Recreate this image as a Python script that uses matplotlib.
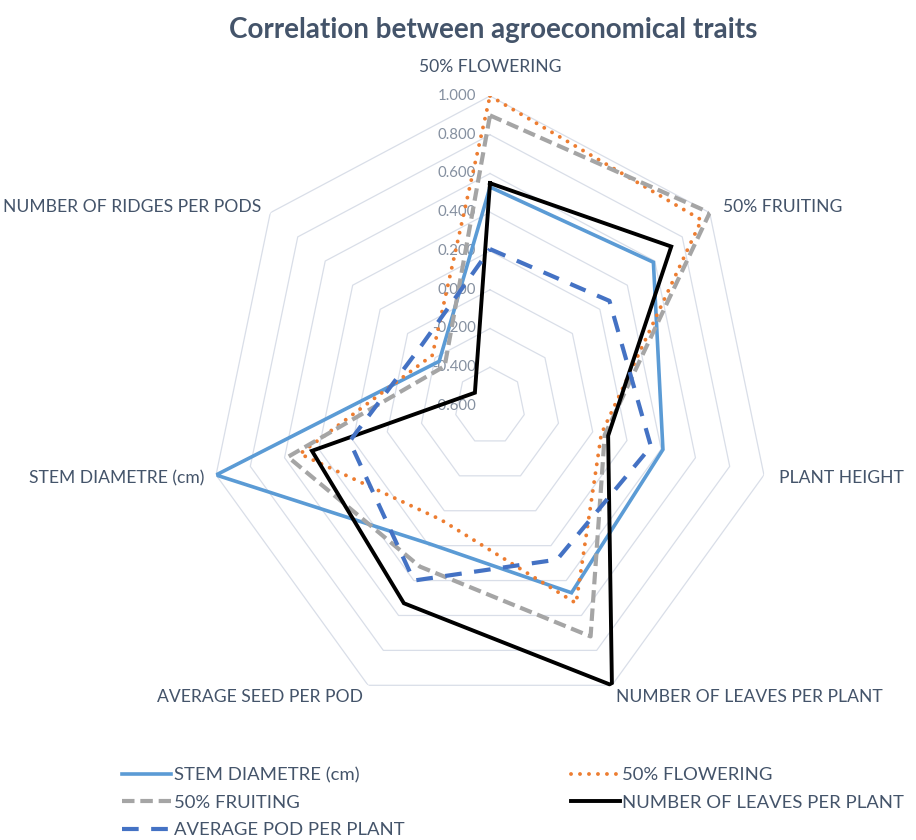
import matplotlib
matplotlib.use('Agg')
import matplotlib.pyplot as plt
import numpy as np

plt.rcParams['font.family'] = ['Lato', 'DejaVu Sans']

# Data
categories = ['50% FLOWERING', '50% FRUITING', 'PLANT HEIGHT', 'NUMBER OF LEAVES PER PLANT',
              'AVERAGE SEED PER POD', 'STEM DIAMETRE (cm)', 'NUMBER OF RIDGES PER PODS']

stem_diametre = [0.53, 0.59, 0.41, 0.47, 0.19, 1.00, -0.23]
flowering = [1.00, 0.94, 0.05, 0.53, 0.05, 0.51, -0.18]
fruiting = [0.90, 1.00, 0.07, 0.72, 0.32, 0.58, -0.27]
leaves = [0.55, 0.72, 0.09, 1.00, 0.53, 0.44, -0.49]
avg_pod = [0.21, 0.27, 0.34, 0.28, 0.40, 0.22, -0.10]

r_min, r_max = -0.6, 1.0
levels = np.round(np.arange(-0.6, 1.001, 0.2), 3)

text_col = '#44546a'
tick_col = '#8590a0'
grid_col = '#d9dee8'

n = len(categories)
angles = np.linspace(0, 2 * np.pi, n, endpoint=False)
closed = np.append(angles, angles[0])

fig = plt.figure(figsize=(9.16, 8.4), dpi=100)
# center at (490, 406) px, vertical radius 310 px, horizontal radius ~281 px
W, H = 916, 840
cx, cy, ry, rx = 490, 406, 310, 281
ax = fig.add_axes([(cx - rx) / W, (H - cy - ry) / H, 2 * rx / W, 2 * ry / H], projection='polar')
ax.set_aspect('auto')
ax.set_theta_zero_location('N')
ax.set_theta_direction(-1)
ax.set_ylim(r_min, r_max)
ax.set_xticks([])
ax.set_yticks([])
ax.grid(False)
ax.spines['polar'].set_visible(False)
ax.patch.set_alpha(0)

# heptagon rings
for lv in levels[1:]:
    ax.plot(closed, [lv] * (n + 1), color=grid_col, lw=0.9, zorder=1)

# radial value labels
for lv in levels:
    ax.annotate('{:.3f}'.format(lv), xy=(0, lv), xytext=(-14, 0), textcoords='offset pixels',
                ha='right', va='center', fontsize=10.8, color=tick_col, zorder=1.5)

series = [
    ('STEM DIAMETRE (cm)', stem_diametre, dict(color='#5B9BD5', lw=2.6, ls='-')),
    ('50% FLOWERING', flowering, dict(color='#ED7D31', lw=2.8, ls=(0, (0.01, 2.3)), dash_capstyle='round')),
    ('50% FRUITING', fruiting, dict(color='#A5A5A5', lw=3.0, ls=(0, (3.0, 1.4)))),
    ('NUMBER OF LEAVES PER PLANT', leaves, dict(color='black', lw=2.8, ls='-')),
    ('AVERAGE POD PER PLANT', avg_pod, dict(color='#4472C4', lw=3.0, ls=(0, (4.0, 3.0)))),
]

handles = {}
for name, vals, style in series:
    h, = ax.plot(closed, vals + vals[:1], label=name, zorder=3, solid_joinstyle='miter', **style)
    handles[name] = h

# category labels (offsets in pixels from outer ring vertex)
label_pos = [
    ((0, 29), 'center'),
    ((13, 6), 'left'),
    ((15, -3), 'left'),
    ((4, -12), 'left'),
    ((-5, -12), 'right'),
    ((-12, -3), 'right'),
    ((-9, 6), 'right'),
]
for ang, cat, (off, ha) in zip(angles, categories, label_pos):
    ax.annotate(cat, xy=(ang, r_max), xytext=off, textcoords='offset pixels',
                ha=ha, va='center', fontsize=12.6, color=text_col, annotation_clip=False)

fig.text(493 / W, 1 - 30 / H, 'Correlation between agroeconomical traits', ha='center', va='center',
         fontsize=20, fontweight='bold', color=text_col)

order = ['STEM DIAMETRE (cm)', '50% FRUITING', 'AVERAGE POD PER PLANT',
         '50% FLOWERING', 'NUMBER OF LEAVES PER PLANT']
leg = fig.legend([handles[k] for k in order], order, ncol=2, loc='upper left',
                 bbox_to_anchor=(122 / W, 1 - 767 / H), frameon=False, fontsize=13.3,
                 handlelength=2.65, handletextpad=0.15, columnspacing=9.0, labelspacing=0.62,
                 borderpad=0, borderaxespad=0)
for t in leg.get_texts():
    t.set_color(text_col)

plt.savefig('out.png', dpi=100)
